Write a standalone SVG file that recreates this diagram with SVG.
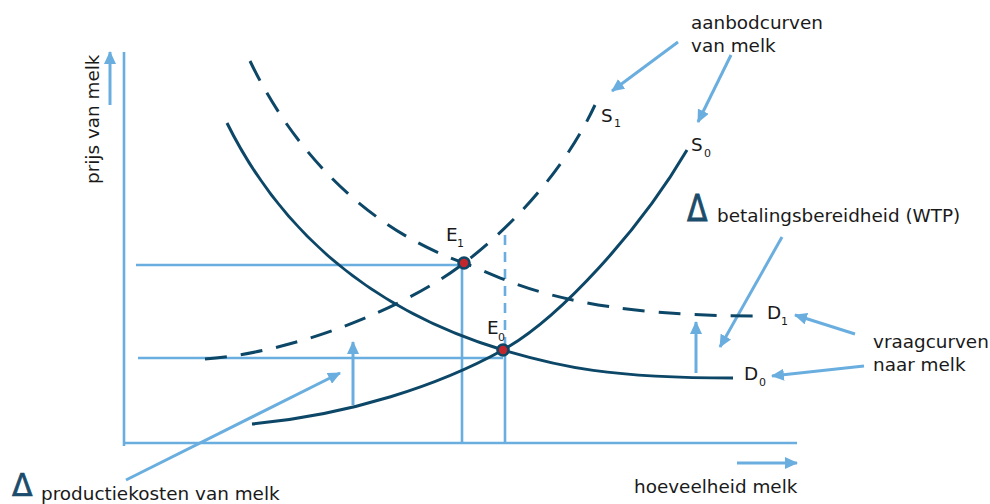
<svg xmlns="http://www.w3.org/2000/svg" width="990" height="504" viewBox="0 0 990 504">
<style>
.lb{stroke:#6aaee0;stroke-width:2.6;fill:none}
.ar{stroke:#6aaee0;stroke-width:3;fill:none;marker-end:url(#ah)}
.cv{stroke:#0d4767;stroke-width:3;fill:none}
.ds{stroke-dasharray:22 14}
.t{font-family:"DejaVu Sans",Verdana,sans-serif;font-size:18.4px;fill:#1a1a1a}
.sub{font-family:"DejaVu Sans",Verdana,sans-serif;font-size:11px;fill:#1a1a1a}
.dl{font-family:"DejaVu Sans",Verdana,sans-serif;font-size:30px;fill:#1b4c6b;stroke:#1b4c6b;stroke-width:0.7}
.pt{fill:#c1272d;stroke:#0d4767;stroke-width:2.6}
</style>
<defs>
<marker id="ah" markerUnits="userSpaceOnUse" markerWidth="14" markerHeight="12" refX="12" refY="6" orient="auto">
<path d="M0,0 L13,6 L0,12 Z" fill="#6aaee0"/>
</marker>
</defs>
<g id="axes">
<line class="lb" x1="124" y1="52" x2="124" y2="446"/>
<line class="lb" x1="123" y1="443" x2="797" y2="443"/>
<line class="ar" x1="110" y1="105" x2="110" y2="52"/>
<line class="ar" x1="737" y1="463" x2="797" y2="463"/>
<text class="t" transform="translate(99,184) rotate(-90)">prijs van melk</text>
<text class="t" x="634" y="493">hoeveelheid melk</text>
</g>
<g id="guides">
<line class="lb" x1="136" y1="265" x2="464" y2="265"/>
<line class="lb" x1="138" y1="358" x2="503" y2="358"/>
<line class="lb" x1="462" y1="263" x2="462" y2="444"/>
<line class="lb" x1="505" y1="350" x2="505" y2="444"/>
<line class="lb" x1="505" y1="235" x2="505" y2="350" stroke-dasharray="10 7"/>
</g>
<g id="connectors">
<line class="ar" x1="353" y1="405" x2="353" y2="342"/>
<line class="ar" x1="696" y1="373" x2="696" y2="322"/>
<line class="ar" x1="126" y1="480" x2="340" y2="373"/>
<line class="ar" x1="782" y1="237" x2="720" y2="347"/>
<line class="ar" x1="855" y1="334" x2="795" y2="315"/>
<line class="ar" x1="864" y1="366" x2="772" y2="376"/>
<line class="ar" x1="678" y1="42" x2="612" y2="91"/>
<line class="ar" x1="731" y1="55" x2="698" y2="122"/>
</g>
<g id="D0">
<path class="cv" d="M227,123 C280,230 370,310 503,350 C560,367 610,378 733,378"/>
<text class="t" x="744" y="380">D</text><text class="sub" x="759" y="386">0</text>
</g>
<g id="D1">
<path class="cv ds" d="M250,61 C295,155 370,230 464,263 C505,278 560,316 758,316"/>
<text class="t" x="767" y="319">D</text><text class="sub" x="781" y="325">1</text>
</g>
<g id="S0">
<path class="cv" d="M252,424 C350,415 440,385 503,350 C560,318 640,230 687,150"/>
<text class="t" x="691" y="151">S</text><text class="sub" x="704" y="157">0</text>
</g>
<g id="S1">
<path class="cv ds" d="M205,359 C300,352 410,305 464,263 C500,236 560,180 595,105"/>
<text class="t" x="601" y="122">S</text><text class="sub" x="614" y="127">1</text>
</g>
<g id="E1">
<circle class="pt" cx="464" cy="263" r="5.5"/>
<text class="t" x="446" y="241">E</text><text class="sub" x="457" y="247">1</text>
</g>
<g id="E0">
<circle class="pt" cx="503" cy="350" r="5.5"/>
<text class="t" x="487" y="334">E</text><text class="sub" x="498" y="341">0</text>
</g>
<g id="labels">
<text class="t" x="691" y="29">aanbodcurven</text>
<text class="t" x="691" y="52">van melk</text>
<text class="dl" transform="translate(687,221) scale(1,1.25)">Δ</text>
<text class="t" x="717" y="222">betalingsbereidheid (WTP)</text>
<text class="t" x="873" y="348">vraagcurven</text>
<text class="t" x="873" y="371">naar melk</text>
<text class="dl" transform="translate(12,496) scale(1,1.05)">Δ</text>
<text class="t" x="41" y="500">productiekosten van melk</text>
</g>
</svg>
